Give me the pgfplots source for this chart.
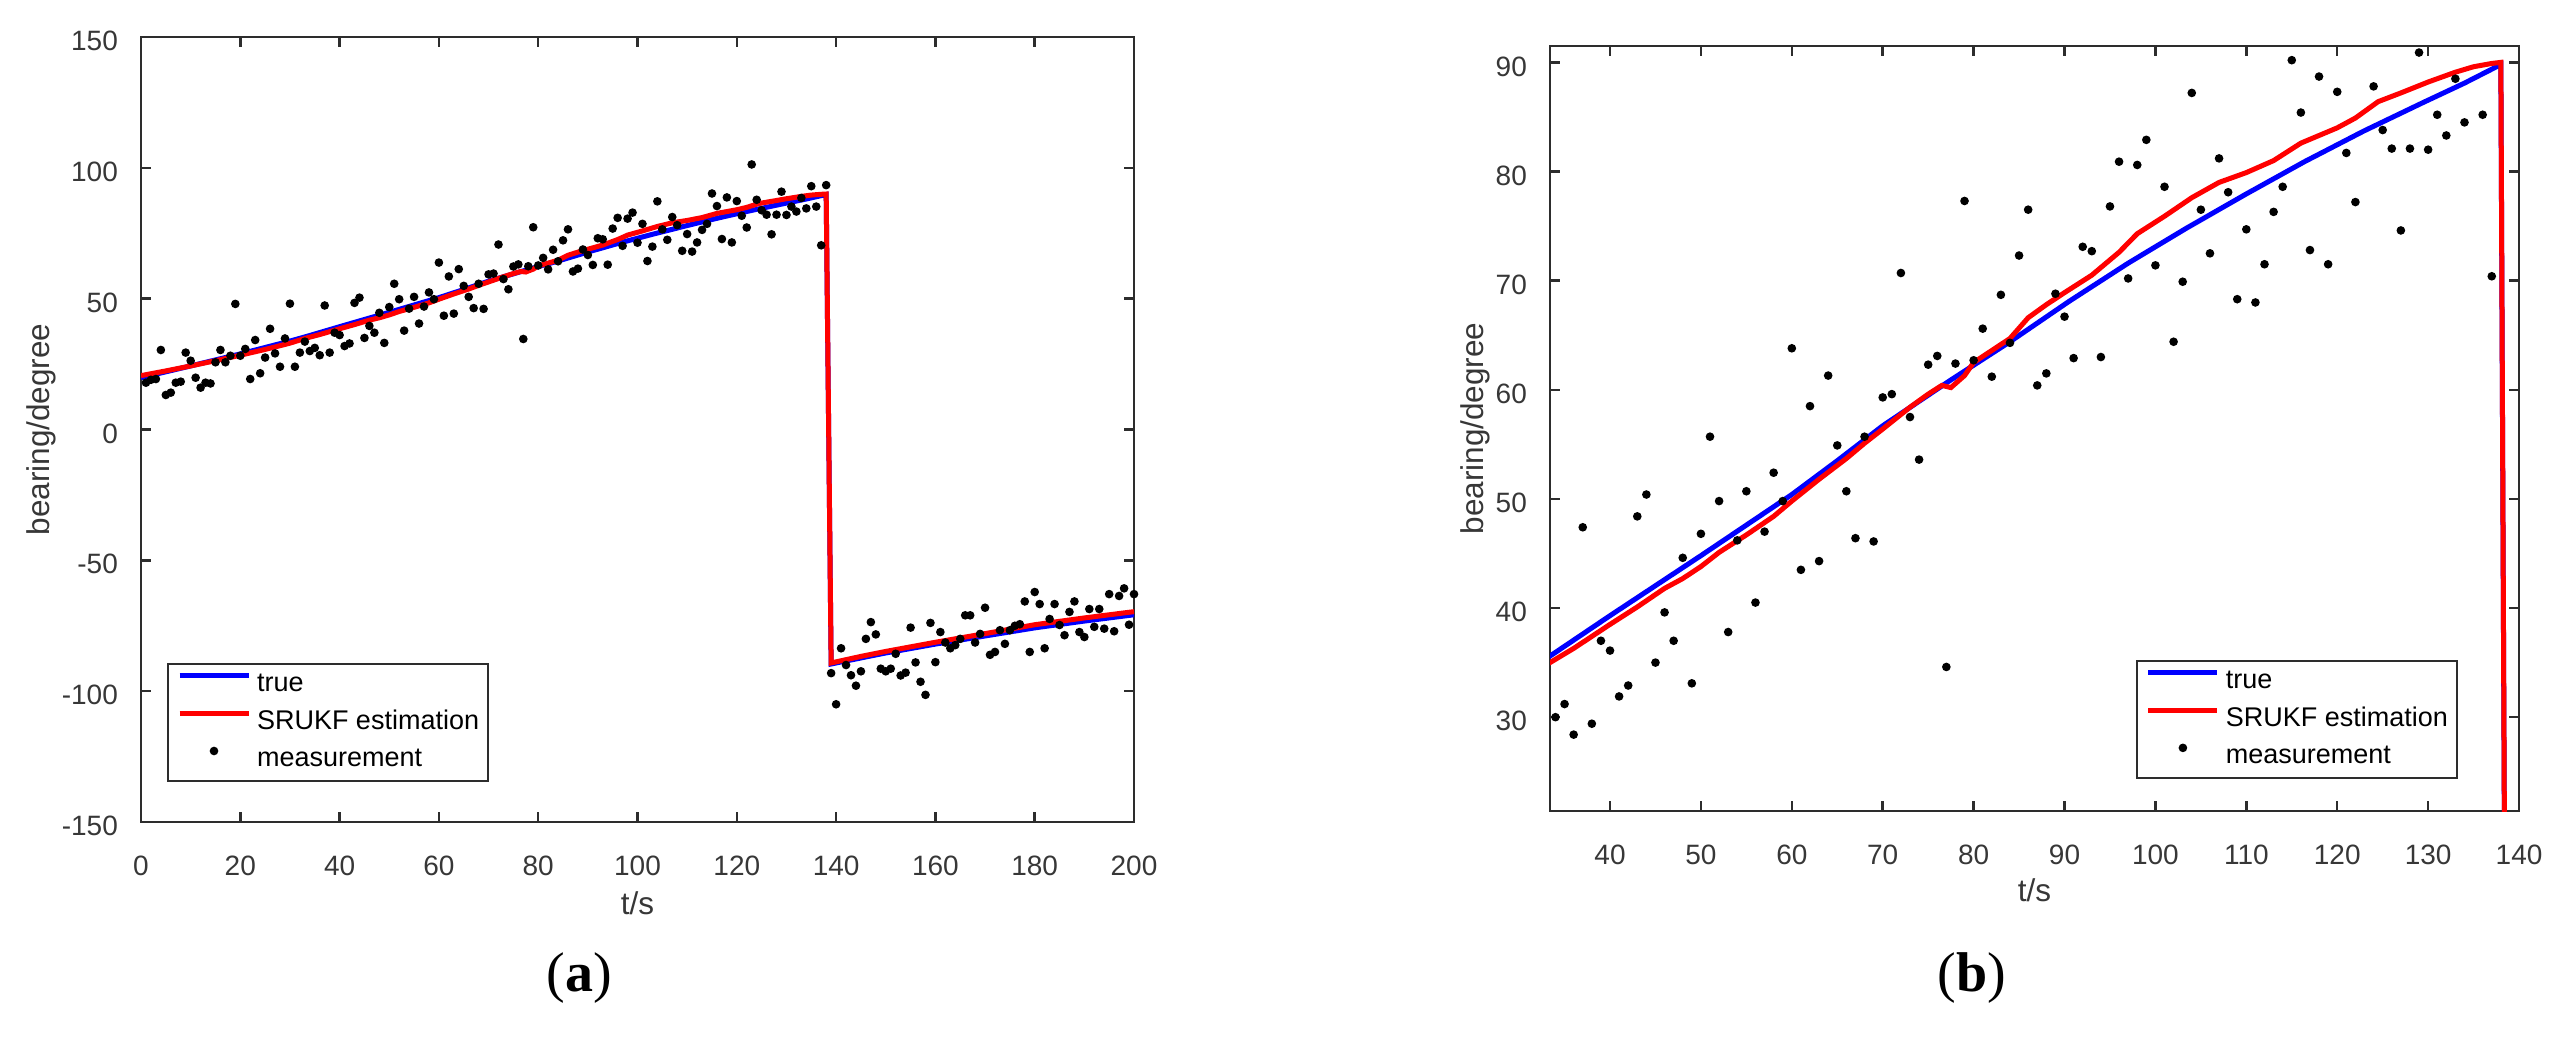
\documentclass[border=0pt]{standalone}
\usepackage{fontspec}
\setmainfont{Liberation Sans}
\newfontfamily\capfont{Liberation Serif}
\usepackage{pgfplots}
\usepackage{pgfplotstable}
\pgfplotsset{compat=1.18}

\definecolor{axgray}{RGB}{45,45,45}
\definecolor{txtgray}{RGB}{55,55,55}
\definecolor{mblue}{RGB}{0,0,255}
\definecolor{mred}{RGB}{255,0,0}

% true bearing
\pgfplotstableread{
t v
0 19.8
10 24.3
20 28.9
30 33.8
33.4 35.6
40 39.3
50 44.8
60 50.4
65 53.5
70 56.7
77.5 60.9
84 64.4
90.5 68.1
97 71.6
103.4 74.8
109.9 77.9
116.4 80.9
122.9 83.7
129.4 86.3
134 88.1
138 89.8
139 -89.6
145 -87.3
150 -85.4
160 -82.0
170 -78.9
180 -75.8
190 -73.2
200 -70.8
}\truetab

% SRUKF estimate
\pgfplotstableread{
t v
0 20.6
5 22.4
10 24.3
15 26.3
20 28.4
25 30.6
30 33.0
33 34.8
36 36.3
38 37.4
40 38.5
43 40.1
46 41.8
48 42.7
50 43.8
52 45.1
55 46.7
58 48.4
60 49.8
63 51.8
66 53.7
68 55.1
70 56.4
73 58.4
75 59.6
76.5 60.4
77.5 60.2
79 61.3
80 62.5
82 63.6
84 64.7
86 66.6
88 67.8
90 68.9
93 70.5
96 72.6
98 74.3
101 75.9
104 77.6
107 79.0
110 79.9
113 81.0
116 82.6
120 84.0
122 84.9
124.5 86.4
127 87.2
130 88.2
133 89.1
135 89.6
137 89.9
138 90.0
139 -89.2
145 -86.7
150 -84.8
160 -81.3
170 -78.0
180 -74.6
190 -72.0
200 -69.6
}\esttab

% measurements
\pgfplotstableread{
t v
1 17.9
2 19.0
3 19.3
4 30.4
5 13.2
6 14.1
7 17.9
8 18.3
9 29.4
10 26.3
11 19.8
12 16.0
13 17.9
14 17.6
15 25.7
16 30.4
17 25.7
18 28.2
19 48.0
20 28.2
21 30.8
22 19.3
23 34.2
24 21.5
25 27.5
26 38.5
27 29.1
28 24.0
29 34.8
30 48.1
31 24.0
32 29.4
33 33.6
34 30.0
35 31.2
36 28.4
37 47.4
38 29.4
39 37.0
40 36.1
41 31.9
42 32.9
43 48.4
44 50.4
45 35.0
46 39.6
47 37.0
48 44.6
49 33.1
50 46.8
51 55.7
52 49.8
53 37.8
54 46.2
55 50.7
56 40.5
57 47.0
58 52.4
59 49.8
60 63.8
61 43.5
62 58.5
63 44.3
64 61.3
65 54.9
66 50.7
67 46.4
68 55.7
69 46.1
70 59.3
71 59.6
72 70.7
73 57.5
74 53.6
75 62.3
76 63.1
77 34.6
78 62.4
79 77.3
80 62.7
81 65.6
82 61.2
83 68.7
84 64.3
85 72.3
86 76.5
87 60.4
88 61.5
89 68.8
90 66.7
91 62.9
92 73.1
93 72.7
94 63.0
95 76.8
96 80.9
97 70.2
98 80.6
99 82.9
100 71.4
101 78.6
102 64.4
103 69.9
104 87.2
105 76.5
106 72.5
107 81.2
108 78.1
109 68.3
110 74.7
111 68.0
112 71.5
113 76.3
114 78.6
115 90.2
116 85.4
117 72.8
118 88.7
119 71.5
120 87.3
121 81.7
122 77.2
123 101.3
124 87.8
125 83.8
126 82.1
127 74.6
128 82.1
129 90.9
130 82.0
131 85.2
132 83.3
133 88.5
134 84.5
135 93.0
136 85.2
137 70.4
138 93.4
139 -93.1
140 -105.0
141 -83.6
142 -90.0
143 -93.9
144 -97.9
145 -92.4
146 -80.0
147 -73.6
148 -78.3
149 -91.4
150 -92.4
151 -91.4
152 -85.7
153 -94.0
154 -92.9
155 -75.7
156 -89.0
157 -96.4
158 -101.4
159 -73.9
160 -88.9
161 -77.4
162 -81.4
163 -83.6
164 -82.4
165 -80.0
166 -71.0
167 -71.0
168 -81.4
169 -78.1
170 -68.1
171 -86.1
172 -85.0
173 -76.7
174 -81.9
175 -76.7
176 -75.0
177 -74.4
178 -65.7
179 -85.0
180 -62.1
181 -66.7
182 -83.6
183 -72.4
184 -66.7
185 -74.7
186 -78.6
187 -69.7
188 -65.7
189 -77.4
190 -79.3
191 -68.6
192 -75.4
193 -68.6
194 -76.1
195 -62.9
196 -77.1
197 -63.6
198 -60.7
199 -74.6
200 -62.9
}\meas

\pgfplotsset{
  matfig/.style={
    scale only axis,
    anchor=south west,
    axis line style={axgray, line width=0.5pt},
    tick style={axgray, line width=0.5pt},
    tick align=inside,
    major tick length=2pt,
    tick label style={font=\fontsize{5.6}{6.7}\selectfont, text=txtgray},
    yticklabel style={xshift=-1.1pt, yshift=-0.8pt},
    xticklabel style={yshift=-3.2pt},
    /pgf/number format/assume math mode=true,
    label style={font=\fontsize{6.3}{7.5}\selectfont, text=txtgray},
    xlabel style={anchor=center},
    ylabel style={anchor=center},
    legend cell align=left,
    legend style={draw=axgray, line width=0.4pt, fill=white,
      font=\fontsize{5.4}{6.4}\selectfont, text=black,
      inner xsep=1.8pt, inner ysep=1.6pt, row sep=2.3pt, column sep=1.2pt,
      nodes={inner sep=0pt, text height=4pt, text depth=1.2pt}},
  },
  trueline/.style={mblue, line width=1pt, no markers,
    legend image code/.code={\draw[##1] (0pt,1.8pt) -- (13.8pt,1.8pt);}},
  estline/.style={mred, line width=1pt, no markers,
    legend image code/.code={\draw[##1] (0pt,1.8pt) -- (13.8pt,1.8pt);}},
  measmarks/.style={only marks, mark=*, mark size=0.65pt, black,
    legend image code/.code={\draw[##1] plot coordinates {(6.9pt,1.8pt)};}},
}

\begin{document}
\begin{tikzpicture}
\useasboundingbox (0,0) rectangle (513.4pt,207.4pt);

% (a)
\begin{axis}[
  matfig,
  at={(28.2pt,43pt)},
  width=198.6pt, height=157pt,
  xmin=0, xmax=200, ymin=-150, ymax=150,
  xtick={0,20,...,200}, ytick={-150,-100,...,150},
  xlabel={t/s}, ylabel={bearing/degree},
  xlabel style={at={(axis description cs:0.5,-0.103)}},
  ylabel style={at={(axis description cs:-0.1007,0.5)}},
  legend style={at={(0.0262,0.051)}, anchor=south west},
]
\addplot[trueline] table {\truetab};
\addplot[estline] table {\esttab};
\addplot[measmarks] table {\meas};
\legend{true, SRUKF estimation, measurement}
\end{axis}

% (b)
\begin{axis}[
  matfig,
  at={(310pt,45.2pt)},
  width=193.8pt, height=153pt,
  xmin=33.4, xmax=140, ymin=21.4, ymax=91.5,
  xtick={40,50,...,140}, ytick={30,40,...,90},
  xlabel={t/s}, ylabel={bearing/degree},
  xlabel style={at={(axis description cs:0.5,-0.103)}},
  ylabel style={at={(axis description cs:-0.0774,0.5)}},
  legend style={at={(0.937,0.042)}, anchor=south east},
]
\addplot[trueline] table {\truetab};
\addplot[estline] table {\esttab};
\addplot[measmarks, restrict x to domain=33.4:140, restrict y to domain=21.4:91.5] table {\meas};
\legend{true, SRUKF estimation, measurement}
\end{axis}

\node[font=\capfont\fontsize{11.2}{13}\selectfont] at (115.8pt,11.8pt) {(\textbf{a})};
\node[font=\capfont\fontsize{11.2}{13}\selectfont] at (394.4pt,11.8pt) {(\textbf{b})};
\end{tikzpicture}
\end{document}
